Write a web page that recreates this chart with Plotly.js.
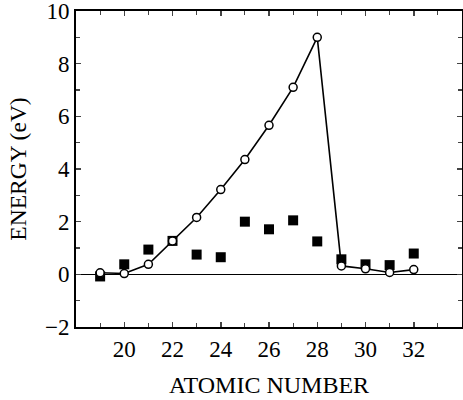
<!DOCTYPE html>
<html><head><meta charset="utf-8">
<script src="https://cdn.plot.ly/plotly-3.0.1.min.js"></script>
<style>html,body{margin:0;padding:0;background:#fff}#c{width:463px;height:400px}</style>
</head><body><div id="c"></div>
<script>
var atomicNumber = [19,20,21,22,23,24,25,26,27,28,29,30,31,32];
var circleEnergy = [0.06,0.03,0.38,1.27,2.16,3.22,4.36,5.66,7.1,9.0,0.32,0.21,0.07,0.18];
var squareEnergy = [-0.08,0.38,0.94,1.27,0.75,0.65,2.0,1.71,2.05,1.25,0.57,0.38,0.35,0.79];
var xTickVals = [20,22,24,26,28,30,32];
var yTickVals = [-2,0,2,4,6,8,10];

var font = {family:'"Liberation Serif", "Times New Roman", serif', color:'#000'};
var traces = [
  {x:atomicNumber, y:squareEnergy, mode:'markers', type:'scatter',
   marker:{symbol:'square', size:10, color:'#000'}},
  {x:atomicNumber, y:circleEnergy, mode:'lines+markers', type:'scatter',
   line:{color:'#000', width:1.6},
   marker:{symbol:'circle', size:8, color:'#fff', line:{color:'#000', width:1.5}}}
];
var layout = {
  width:463, height:400,
  margin:{l:76, r:1, t:11, b:73},
  showlegend:false,
  paper_bgcolor:'#fff', plot_bgcolor:'#fff',
  font:Object.assign({size:23}, font),
  xaxis:{range:[18,34], tickvals:xTickVals, ticks:'inside', ticklen:5, tickwidth:1.5,
    showline:true, linewidth:2, linecolor:'#000', mirror:'ticks', showgrid:false, zeroline:false,
    minor:{dtick:1, tick0:0, ticks:'inside', ticklen:4, tickwidth:1.2, showgrid:false},
    tickfont:Object.assign({size:23}, font), automargin:false,
    title:{text:'ATOMIC NUMBER', standoff:16, font:Object.assign({size:24}, font)}},
  yaxis:{range:[-2,10], tickvals:yTickVals, ticks:'inside', ticklen:5, tickwidth:1.5,
    showline:true, linewidth:2, linecolor:'#000', mirror:'ticks', showgrid:false,
    zeroline:true, zerolinecolor:'#000', zerolinewidth:1.5, ticklabeloverflow:'allow',
    minor:{dtick:1, tick0:0, ticks:'inside', ticklen:4, tickwidth:1.2, showgrid:false},
    tickfont:Object.assign({size:23}, font), automargin:false,
    title:{text:'ENERGY (eV)', standoff:12, font:Object.assign({size:23.5}, font)}}
};
Plotly.newPlot('c', traces, layout, {displayModeBar:false, staticPlot:true});
</script></body></html>
